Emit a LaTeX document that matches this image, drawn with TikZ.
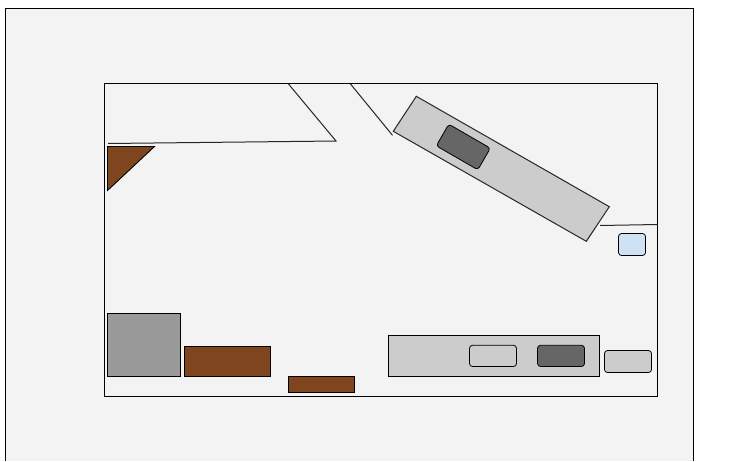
\documentclass[tikz,border=0pt]{standalone}
\definecolor{pagebg}{HTML}{F3F3F3}
\definecolor{lightg}{HTML}{CCCCCC}
\definecolor{darkg}{HTML}{666666}
\definecolor{midg}{HTML}{999999}
\definecolor{woodb}{HTML}{7F451E}
\definecolor{paleb}{HTML}{CFE2F3}
\tikzset{
  plain/.style={draw=black,line width=0.9pt,line join=miter},
  wall/.style={draw=black!85,line width=1pt},
  soft/.style={draw=black,line width=0.8pt,rounded corners=3pt},
}
\begin{document}
\begin{tikzpicture}[x=1pt,y=-1pt]
\useasboundingbox (0,0) rectangle (747,461);
\fill[white] (0,0) rectangle (747,461);
% sheet
\fill[pagebg] (5.5,8.5) rectangle (693.5,461);
\draw[plain] (5.5,461) -- (5.5,8.5) -- (693.5,8.5) -- (693.5,461);
% room
\draw[plain] (104.5,83.5) rectangle (657.5,396.5);
% walls
\draw[wall] (108,143.5) -- (336,141) -- (288.5,84);
\draw[wall] (350.5,84) -- (392.5,135.3);
\draw[wall] (600,225.5) -- (657.5,224.5);
% triangle
\draw[plain,fill=woodb] (107.5,146.5) -- (154.5,146.5) -- (107.5,190.5) -- cycle;
% slanted counter
\draw[wall,fill=lightg] (416.3,96.3) -- (609.3,206.7) -- (586.3,241.3) -- (393.3,131.3) -- cycle;
\node[soft,fill=darkg,rotate=-30,minimum width=48pt,minimum height=25pt,inner sep=0pt] (slantsink) at (463.3,147) {};
% bottom row
\draw[plain,fill=midg] (107.5,313.5) rectangle (180.5,376.5);
\draw[plain,fill=woodb] (184.5,346.5) rectangle (270.5,376.5);
\draw[plain,fill=woodb] (288.5,376.5) rectangle (354.5,392.5);
\draw[plain,fill=lightg] (388.5,335.5) rectangle (599.5,376.5);
\draw[soft,fill=lightg] (469.5,345.3) rectangle (516.5,366.5);
\draw[soft,fill=darkg] (537.5,345.3) rectangle (584.5,366.5);
\draw[soft,fill=lightg] (604.5,350.5) rectangle (651.5,372.5);
\draw[soft,fill=paleb] (618.5,233.5) rectangle (645.5,255.5);
\end{tikzpicture}
\end{document}
